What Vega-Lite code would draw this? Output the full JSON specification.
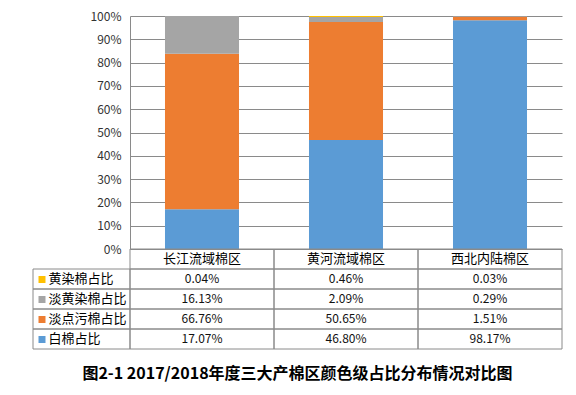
{
  "$schema": "https://vega.github.io/schema/vega-lite/v6.json",
  "background": "white",
  "padding": {"left": 32, "top": 10, "right": 14, "bottom": 10},
  "config": {"view": {"stroke": null}, "font": "Noto Sans CJK SC"},
  "title": {
    "text": "图2-1 2017/2018年度三大产棉区颜色级占比分布情况对比图",
    "orient": "bottom",
    "anchor": "middle",
    "fontSize": 16,
    "fontWeight": "bold",
    "font": "Noto Sans CJK SC",
    "color": "#000000",
    "offset": 16
  },
  "data": {
    "values": [
      {"region": "长江流域棉区", "series": "白棉占比", "k": 1, "value": 0.1707},
      {"region": "长江流域棉区", "series": "淡点污棉占比", "k": 2, "value": 0.6676},
      {"region": "长江流域棉区", "series": "淡黄染棉占比", "k": 3, "value": 0.1613},
      {"region": "长江流域棉区", "series": "黄染棉占比", "k": 4, "value": 0.0004},
      {"region": "黄河流域棉区", "series": "白棉占比", "k": 1, "value": 0.468},
      {"region": "黄河流域棉区", "series": "淡点污棉占比", "k": 2, "value": 0.5065},
      {"region": "黄河流域棉区", "series": "淡黄染棉占比", "k": 3, "value": 0.0209},
      {"region": "黄河流域棉区", "series": "黄染棉占比", "k": 4, "value": 0.0046},
      {"region": "西北内陆棉区", "series": "白棉占比", "k": 1, "value": 0.9817},
      {"region": "西北内陆棉区", "series": "淡点污棉占比", "k": 2, "value": 0.0151},
      {"region": "西北内陆棉区", "series": "淡黄染棉占比", "k": 3, "value": 0.0029},
      {"region": "西北内陆棉区", "series": "黄染棉占比", "k": 4, "value": 0.0003}
    ]
  },
  "columns": 2,
  "spacing": 0,
  "bounds": "flush",
  "concat": [
    {
      "width": 97,
      "height": 233,
      "mark": {"type": "text"},
      "encoding": {"text": {"value": ""}}
    },
    {
      "width": 432,
      "height": 233,
      "mark": {"type": "bar"},
      "encoding": {
        "x": {
          "field": "region",
          "type": "nominal",
          "sort": ["长江流域棉区", "黄河流域棉区", "西北内陆棉区"],
          "scale": {"paddingInner": 0.486, "paddingOuter": 0.243},
          "axis": null
        },
        "y": {
          "field": "value",
          "type": "quantitative",
          "stack": "zero",
          "scale": {"domain": [0, 1], "nice": false},
          "axis": {
            "title": null,
            "values": [0, 0.1, 0.2, 0.3, 0.4, 0.5, 0.6, 0.7, 0.8, 0.9, 1],
            "format": ".0%",
            "grid": true,
            "gridColor": "#8a8a8a",
            "gridOpacity": 1,
            "domainColor": "#8a8a8a",
            "ticks": false,
            "labelPadding": 9,
            "labelFontSize": 12,
            "labelColor": "#333333",
            "labelFont": "Noto Sans CJK SC"
          }
        },
        "color": {
          "field": "series",
          "type": "nominal",
          "scale": {
            "domain": ["白棉占比", "淡点污棉占比", "淡黄染棉占比", "黄染棉占比"],
            "range": ["#5B9BD5", "#ED7D31", "#A5A5A5", "#FFC000"]
          },
          "legend": null
        },
        "order": {"field": "k", "type": "quantitative", "sort": "ascending"}
      }
    },
    {
      "width": 97,
      "height": 100,
      "transform": [{"filter": "datum.region === '长江流域棉区'"}],
      "mark": {"type": "rect", "filled": false, "stroke": "#8a8a8a", "strokeWidth": 1},
      "encoding": {
        "y": {
          "field": "series",
          "type": "nominal",
          "scale": {
            "domain": ["header", "黄染棉占比", "淡黄染棉占比", "淡点污棉占比", "白棉占比"],
            "paddingInner": 0,
            "paddingOuter": 0
          },
          "axis": {
            "orient": "right",
            "offset": -92,
            "title": null,
            "domain": false,
            "grid": false,
            "ticks": true,
            "tickSize": 7,
            "tickWidth": 7,
            "tickColor": {
              "condition": [
                {"test": "datum.value === '黄染棉占比'", "value": "#FFC000"},
                {"test": "datum.value === '淡黄染棉占比'", "value": "#A5A5A5"},
                {"test": "datum.value === '淡点污棉占比'", "value": "#ED7D31"},
                {"test": "datum.value === '白棉占比'", "value": "#5B9BD5"}
              ],
              "value": "transparent"
            },
            "labelExpr": "datum.value === 'header' ? '' : datum.value",
            "labelPadding": 3,
            "labelFontSize": 13,
            "labelColor": "#000000",
            "labelFont": "Noto Sans CJK SC",
            "zindex": 1
          }
        }
      }
    },
    {
      "width": 432,
      "height": 100,
      "encoding": {
        "x": {
          "field": "region",
          "type": "nominal",
          "sort": ["长江流域棉区", "黄河流域棉区", "西北内陆棉区"],
          "scale": {"paddingInner": 0, "paddingOuter": 0},
          "axis": null
        },
        "y": {
          "field": "series",
          "type": "nominal",
          "scale": {
            "domain": ["header", "黄染棉占比", "淡黄染棉占比", "淡点污棉占比", "白棉占比"],
            "paddingInner": 0,
            "paddingOuter": 0
          },
          "axis": null
        }
      },
      "layer": [
        {
          "mark": {"type": "rect", "filled": false, "stroke": "#8a8a8a", "strokeWidth": 1}
        },
        {
          "transform": [{"filter": "datum.series === '白棉占比'"}],
          "mark": {"type": "rect", "filled": false, "stroke": "#8a8a8a", "strokeWidth": 1},
          "encoding": {"y": {"datum": "header"}}
        },
        {
          "transform": [{"filter": "datum.series === '白棉占比'"}],
          "mark": {"type": "text", "fontSize": 13, "color": "#000000", "font": "Noto Sans CJK SC"},
          "encoding": {"y": {"datum": "header"}, "text": {"field": "region"}}
        },
        {
          "mark": {"type": "text", "fontSize": 12, "color": "#111111", "font": "Noto Sans CJK SC"},
          "encoding": {"text": {"field": "value", "format": ".2%"}}
        }
      ]
    }
  ]
}
